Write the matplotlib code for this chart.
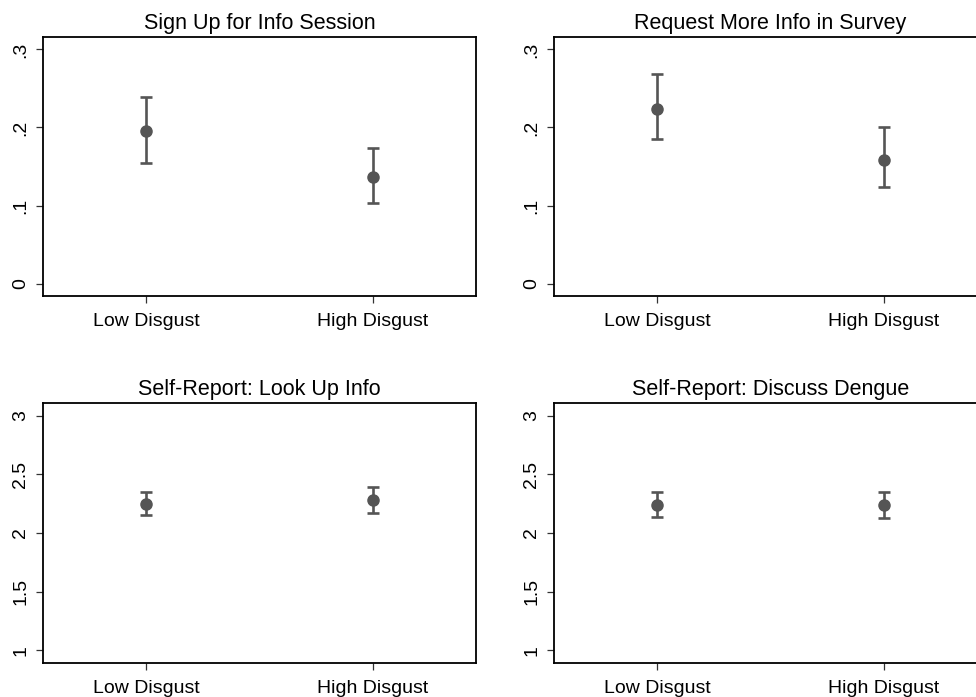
import matplotlib
matplotlib.use('Agg')
import matplotlib.pyplot as plt

plt.rcParams['font.family'] = ['Liberation Sans', 'DejaVu Sans']

groups = ["Low Disgust", "High Disgust"]
titles = ["Sign Up for Info Session", "Request More Info in Survey",
          "Self-Report: Look Up Info", "Self-Report: Discuss Dengue"]

# point estimates and confidence bounds per panel (low, high)
means = [
    [0.195, 0.136],
    [0.224, 0.158],
    [2.248, 2.282],
    [2.239, 2.239],
]
lower = [
    [0.155, 0.103],
    [0.185, 0.124],
    [2.151, 2.171],
    [2.139, 2.130],
]
upper = [
    [0.239, 0.174],
    [0.268, 0.200],
    [2.350, 2.393],
    [2.350, 2.350],
]

prop_ticks = [0, 0.1, 0.2, 0.3]
prop_labels = ["0", ".1", ".2", ".3"]
scale_ticks = [1, 1.5, 2, 2.5, 3]
scale_labels = ["1", "1.5", "2", "2.5", "3"]

W, H = 976, 697
fig = plt.figure(figsize=(W / 100, H / 100), dpi=100)

# axes boxes in pixels: left, top, right, bottom
boxes = [
    (43, 37, 476, 296),
    (554, 37, 987, 296),
    (43, 403, 476, 663),
    (554, 403, 987, 663),
]

col = '#555555'
for i, (l, t, r, b) in enumerate(boxes):
    ax = fig.add_axes([l / W, 1 - b / H, (r - l) / W, (b - t) / H])
    x = [1, 2]
    m = means[i]
    yerr = [[m[k] - lower[i][k] for k in range(2)],
            [upper[i][k] - m[k] for k in range(2)]]
    ax.errorbar(x, m, yerr=yerr, fmt='o', color=col, ecolor=col,
                markersize=8, elinewidth=1.9, capsize=4, capthick=1.9)
    ax.set_xlim(0.546, 2.454)
    ax.set_xticks(x)
    ax.set_xticklabels(groups, fontsize=14)
    if i < 2:
        ax.set_ylim(-0.016, 0.316)
        ax.set_yticks(prop_ticks)
        ax.set_yticklabels(prop_labels, rotation=90, va='center', fontsize=14)
    else:
        ax.set_ylim(0.89, 3.11)
        ax.set_yticks(scale_ticks)
        ax.set_yticklabels(scale_labels, rotation=90, va='center', fontsize=14)
    ax.tick_params(axis='both', length=5, width=0.9, color='#333333')
    ax.tick_params(axis='x', pad=7)
    ax.tick_params(axis='y', pad=5)
    for s in ax.spines.values():
        s.set_linewidth(1.3)
        s.set_color('black')
    ax.set_title(titles[i], fontsize=15.5, pad=6)

fig.savefig('out.png', dpi=100)
